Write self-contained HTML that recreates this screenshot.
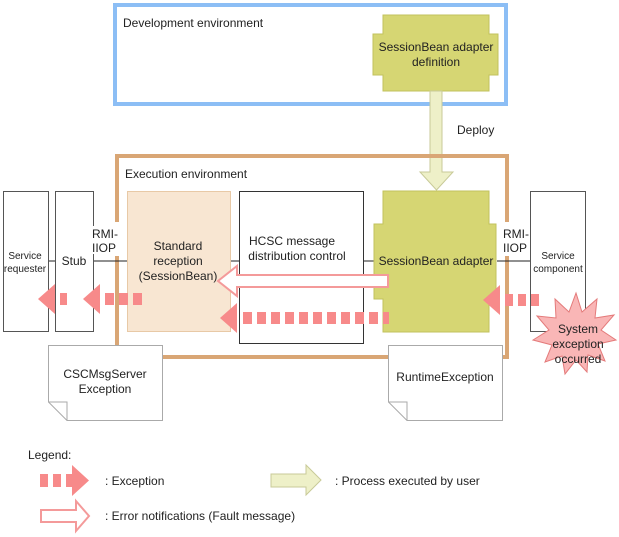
<!DOCTYPE html>
<html><head><meta charset="utf-8"><style>
html,body{margin:0;padding:0;background:#fff;}
svg{display:block;font-family:"Liberation Sans",Arial,sans-serif;}
</style></head><body>
<svg width="619" height="537" viewBox="0 0 619 537" xmlns="http://www.w3.org/2000/svg">
<!-- Dev env -->
<rect x="115" y="5" width="391" height="99" fill="none" stroke="#8cbef5" stroke-width="4"/>
<text x="123" y="27" font-size="12" fill="#222">Development environment</text>
<path d="M383,15 H489 V34 H498 V75 H489 V91 H383 V75 H373 V34 H383 Z" fill="#d6d673" stroke="#c2c25c" stroke-width="1"/>
<text x="436" y="51" font-size="12" fill="#222" text-anchor="middle">SessionBean adapter</text>
<text x="436" y="66" font-size="12" fill="#222" text-anchor="middle">definition</text>
<!-- Deploy arrow -->
<path d="M430,91 H442 V172 H453 L436.5,190 L420,172 H430 Z" fill="#eef0c8" stroke="#c8ca98" stroke-width="1"/>
<text x="457" y="134" font-size="12" fill="#222">Deploy</text>
<!-- Exec env -->
<path d="M117,222 V156 H507 V222 M507,256 V357 H117 V256" fill="none" stroke="#d9a675" stroke-width="4"/>
<text x="125" y="178" font-size="12" fill="#222">Execution environment</text>
<!-- boxes -->
<rect x="3.5" y="191.5" width="45" height="140" fill="#fff" stroke="#555" stroke-width="1"/>
<text x="25" y="259" font-size="10" fill="#222" text-anchor="middle">Service</text>
<text x="25" y="272" font-size="10" fill="#222" text-anchor="middle">requester</text>
<rect x="55.5" y="191.5" width="38" height="140" fill="#fff" stroke="#555" stroke-width="1"/>
<text x="74" y="265" font-size="12" fill="#222" text-anchor="middle">Stub</text>
<line x1="49" y1="261" x2="55" y2="261" stroke="#222"/>
<line x1="94" y1="261" x2="127" y2="261" stroke="#222"/>
<rect x="92" y="226" width="30" height="28" fill="#fff"/>
<text x="92" y="238" font-size="12" fill="#222">RMI-</text>
<text x="92" y="252" font-size="12" fill="#222">IIOP</text>
<rect x="127.5" y="191.5" width="103" height="140" fill="#f8e6d2" stroke="#e8c9a6" stroke-width="1"/>
<text x="178" y="250" font-size="12" fill="#222" text-anchor="middle">Standard</text>
<text x="178" y="265" font-size="12" fill="#222" text-anchor="middle">reception</text>
<text x="178" y="280" font-size="12" fill="#222" text-anchor="middle">(SessionBean)</text>
<line x1="231" y1="261" x2="239" y2="261" stroke="#222"/>
<rect x="239.5" y="191.5" width="124" height="152" fill="#fff" stroke="#333" stroke-width="1"/>
<text x="292" y="245" font-size="12" fill="#222" text-anchor="middle">HCSC message</text>
<text x="297" y="260" font-size="12" fill="#222" text-anchor="middle">distribution control</text>
<line x1="364" y1="261" x2="374" y2="261" stroke="#222"/>
<path d="M383,191 H489 V224 H496 V299 H489 V332 H383 V299 H374 V224 H383 Z" fill="#d6d673" stroke="#c2c25c" stroke-width="1"/>
<text x="436" y="265" font-size="12" fill="#222" text-anchor="middle">SessionBean adapter</text>
<line x1="497" y1="261" x2="530" y2="261" stroke="#222"/>
<rect x="498" y="226" width="30" height="28" fill="#fff"/>
<text x="503" y="238" font-size="12" fill="#222">RMI-</text>
<text x="503" y="252" font-size="12" fill="#222">IIOP</text>
<rect x="530.5" y="191.5" width="55" height="140" fill="#fff" stroke="#555" stroke-width="1"/>
<text x="558" y="259" font-size="10" fill="#222" text-anchor="middle">Service</text>
<text x="558" y="272" font-size="10" fill="#222" text-anchor="middle">component</text>
<!-- error notification hollow arrow -->
<path d="M388,275 V287 H237 V296 L218,281 L237,266 V275 Z" fill="#fff" stroke="#f49a9a" stroke-width="2"/>
<!-- exception arrows -->
<g fill="#f78a8a">
<path d="M500,285 L483,300 L500,315 Z"/>
<rect x="505" y="294" width="8" height="12"/><rect x="518" y="294" width="8" height="12"/><rect x="531" y="294" width="8" height="12"/>
<path d="M237,303 L220,318 L237,333 Z"/>
<rect x="243" y="312" width="9" height="12"/><rect x="257" y="312" width="9" height="12"/><rect x="271" y="312" width="9" height="12"/><rect x="285" y="312" width="9" height="12"/><rect x="299" y="312" width="9" height="12"/><rect x="313" y="312" width="9" height="12"/><rect x="327" y="312" width="9" height="12"/><rect x="341" y="312" width="9" height="12"/><rect x="355" y="312" width="9" height="12"/><rect x="369" y="312" width="9" height="12"/><rect x="383" y="312" width="6" height="12"/>
<path d="M100,284 L83,299 L100,314 Z"/>
<rect x="105" y="293" width="9" height="12"/><rect x="119" y="293" width="9" height="12"/><rect x="133" y="293" width="9" height="12"/>
<path d="M55,284 L38,299 L55,314 Z"/>
<rect x="60" y="293" width="7" height="12"/>
</g>
<!-- starburst -->
<path d="M576,293 L582,312 L597,299 L595,318 L614,315 L601,330 L616,340 L598,344 L605,361 L588,355 L587,372 L576,360 L565,374 L562,356 L545,362 L552,345 L533,340 L549,330 L537,316 L556,318 L555,299 L569,312 Z" fill="#f9b6b6" stroke="#e47a7a" stroke-width="1"/>
<text x="578" y="333" font-size="12" fill="#222" text-anchor="middle">System</text>
<text x="578" y="348" font-size="12" fill="#222" text-anchor="middle">exception</text>
<text x="578" y="363" font-size="12" fill="#222" text-anchor="middle">occurred</text>
<!-- documents -->
<path d="M48.5,345.5 H162.5 V420.5 H67 L48.5,402 Z" fill="#fff" stroke="#aaa"/>
<path d="M48.5,402 H67 V420.5" fill="none" stroke="#aaa"/>
<text x="105" y="378" font-size="12" fill="#222" text-anchor="middle">CSCMsgServer</text>
<text x="105" y="393" font-size="12" fill="#222" text-anchor="middle">Exception</text>
<path d="M388.5,345.5 H502.5 V420.5 H407 L388.5,402 Z" fill="#fff" stroke="#aaa"/>
<path d="M388.5,402 H407 V420.5" fill="none" stroke="#aaa"/>
<text x="445" y="381" font-size="12" fill="#222" text-anchor="middle">RuntimeException</text>
<!-- legend -->
<text x="28" y="459" font-size="12" fill="#222">Legend:</text>
<g fill="#f78a8a">
<rect x="40" y="474" width="8" height="13"/><rect x="53" y="474" width="8" height="13"/><rect x="66" y="474" width="6" height="13"/>
<path d="M72,465 L89,480.5 L72,496 Z"/>
</g>
<text x="105" y="485" font-size="12" fill="#222">: Exception</text>
<path d="M41,510 H76 V501 L89,516 L76,531 V522 H41 Z" fill="#fff" stroke="#f49a9a" stroke-width="2"/>
<text x="105" y="520" font-size="12" fill="#222">: Error notifications (Fault message)</text>
<path d="M271,474 H306 V465 L321,480 L306,495 V487 H271 Z" fill="#eef0c8" stroke="#c8ca98"/>
<text x="335" y="485" font-size="12" fill="#222">: Process executed by user</text>
</svg>
</body></html>
